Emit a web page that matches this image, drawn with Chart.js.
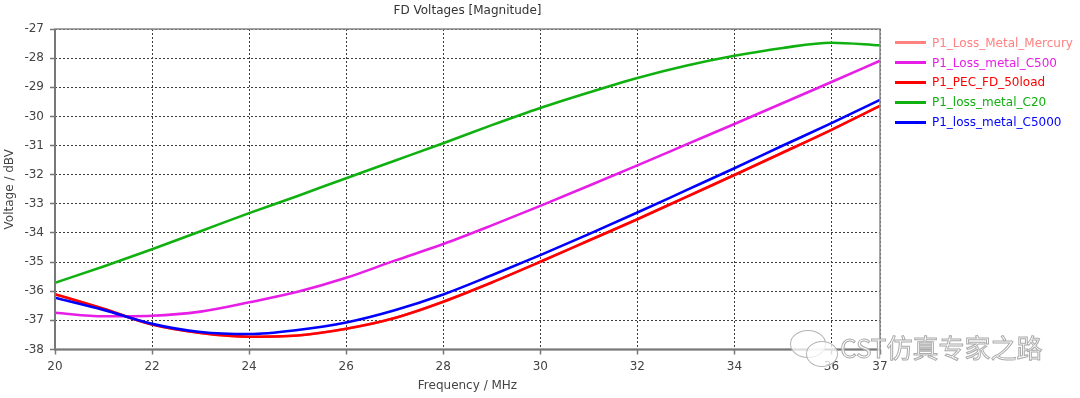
<!DOCTYPE html>
<html>
<head>
<meta charset="utf-8">
<script src="https://cdn.jsdelivr.net/npm/chart.js@4.4.1/dist/chart.umd.min.js"></script>
<style>
    body { margin: 0; background: #fff; }
    #wrap { position: relative; width: 1080px; height: 398px; overflow: hidden; }
    #legend { position: absolute; left: 895px; top: 33px; font: 12px "DejaVu Sans", sans-serif; }
    .item { height: 19.8px; display: flex; align-items: center; white-space: nowrap; }
    .item span.swatch { display: inline-block; width: 31px; height: 3px; margin-right: 6px; }
    #mark { position: absolute; left: 788px; top: 326px; width: 280px; height: 44px; }
    #mark .txt { position: absolute; left: 52px; top: 2px; font: 26px "Noto Sans CJK SC", sans-serif;
        color: rgba(255,255,255,0.75); -webkit-text-stroke: 1px #ababab; }
    .bub { position: absolute; border: 1.5px solid #b4b4b4; border-radius: 50%; background: rgba(255,255,255,0.75); }
</style>
</head>
<body>
<div id="wrap">
    <canvas id="chart" width="1080" height="398"></canvas>
    <div id="legend"></div>
    <div id="mark">
        <div class="bub" style="left:2px;top:4px;width:34px;height:26px;"></div>
        <div class="bub" style="left:18px;top:15px;width:30px;height:24px;"></div>
        <div class="txt">CST仿真专家之路</div>
    </div>
</div>
<script>
// Данные
const FREQS = [20, 21, 22, 23, 24, 25, 26, 27, 28, 29, 30, 31, 32, 33, 34, 35, 36, 37];
const X_TICKS = [20, 22, 24, 26, 28, 30, 32, 34, 36, 37];

const SERIES_NAMES = ['P1_Loss_Metal_Mercury', 'P1_Loss_metal_C500', 'P1_PEC_FD_50load',
                      'P1_loss_metal_C20', 'P1_loss_metal_C5000'];
const SERIES_COLORS = ['#ff8282', '#e61ee6', '#ff0000', '#10b010', '#0000ff'];

const mercury = [-36.10, -36.60, -37.14, -37.43, -37.56, -37.52, -37.29, -36.92, -36.36,
                 -35.70, -34.99, -34.26, -33.53, -32.77, -32.01, -31.24, -30.46, -29.64];
const c500    = [-36.74, -36.86, -36.84, -36.70, -36.38, -36.02, -35.54, -34.95, -34.38,
                 -33.74, -33.07, -32.38, -31.68, -30.97, -30.26, -29.54, -28.82, -28.09];
const pec     = [-36.10, -36.60, -37.14, -37.43, -37.56, -37.52, -37.29, -36.92, -36.36,
                 -35.70, -34.99, -34.26, -33.53, -32.77, -32.01, -31.24, -30.46, -29.64];
const c20     = [-35.71, -35.15, -34.56, -33.94, -33.32, -32.73, -32.12, -31.52, -30.92,
                 -30.30, -29.71, -29.18, -28.68, -28.26, -27.92, -27.65, -27.47, -27.56];
const c5000   = [-36.22, -36.64, -37.12, -37.40, -37.47, -37.33, -37.07, -36.65, -36.11,
                 -35.45, -34.76, -34.04, -33.30, -32.54, -31.78, -31.00, -30.23, -29.43];

const SERIES = [mercury, c500, pec, c20, c5000];

const FONT = { family: '"DejaVu Sans", sans-serif', size: 12 };

// рамка вокруг области графика
const framePlugin = {
    id: 'frame',
    afterDatasetsDraw(chart) {
        const a = chart.chartArea;
        const ctx = chart.ctx;
        ctx.save();
        ctx.strokeStyle = '#888';
        ctx.lineWidth = 1.5;
        ctx.strokeRect(a.left, a.top, a.right - a.left, a.bottom - a.top);
        ctx.strokeStyle = '#777';
        ctx.lineWidth = 2;
        ctx.beginPath();
        ctx.moveTo(a.left, a.top);
        ctx.lineTo(a.left, a.bottom);
        ctx.lineTo(a.right, a.bottom);
        ctx.stroke();
        ctx.restore();
    }
};

const datasets = SERIES.map((values, i) => ({
    label: SERIES_NAMES[i],
    data: FREQS.map((f, j) => ({ x: f, y: values[j] })),
    borderColor: SERIES_COLORS[i],
    borderWidth: 2.6,
    pointRadius: 0,
    cubicInterpolationMode: 'monotone',
    order: SERIES.length - 1 - i
}));

new Chart(document.getElementById('chart'), {
    type: 'line',
    data: { datasets: datasets },
    options: {
        responsive: false,
        animation: false,
        layout: { padding: { right: 200 } },
        plugins: {
            legend: { display: false },
            tooltip: { enabled: false },
            title: {
                display: true,
                text: 'FD Voltages [Magnitude]',
                fullSize: false,
                color: '#333',
                font: { family: FONT.family, size: 12, weight: 'normal' },
                padding: { top: 4, bottom: 10.6 }
            }
        },
        scales: {
            x: {
                type: 'linear',
                min: 20,
                max: 37,
                afterBuildTicks: scale => { scale.ticks = X_TICKS.map(v => ({ value: v })); },
                afterFit: scale => { scale.height = 48.5; },
                ticks: { color: '#444', font: FONT, padding: 5, maxRotation: 0, autoSkip: false },
                grid: { color: '#3a3a3a', lineWidth: 1, tickLength: 5, tickColor: '#777', tickWidth: 1.5 },
                border: { display: false, dash: [2, 2] },
                title: {
                    display: true,
                    text: 'Frequency / MHz',
                    color: '#444',
                    font: FONT,
                    padding: { top: 0, bottom: 5 }
                }
            },
            y: {
                min: -38,
                max: -27,
                afterFit: scale => { scale.width = 55; },
                ticks: { stepSize: 1, color: '#444', font: FONT, padding: 6 },
                grid: { color: '#3a3a3a', lineWidth: 1, tickLength: 5, tickColor: '#777', tickWidth: 1.5 },
                border: { display: false, dash: [2, 2] },
                title: {
                    display: true,
                    text: 'Voltage / dBV',
                    color: '#444',
                    font: FONT,
                    padding: { top: 3, bottom: 0 }
                }
            }
        }
    },
    plugins: [framePlugin]
});

// легенда справа
const legend = document.getElementById('legend');
SERIES_NAMES.forEach((name, i) => {
    const row = document.createElement('div');
    row.className = 'item';
    row.style.color = SERIES_COLORS[i];
    row.innerHTML = `<span class="swatch" style="background:${SERIES_COLORS[i]}"></span>${name}`;
    legend.appendChild(row);
});
</script>
</body>
</html>
